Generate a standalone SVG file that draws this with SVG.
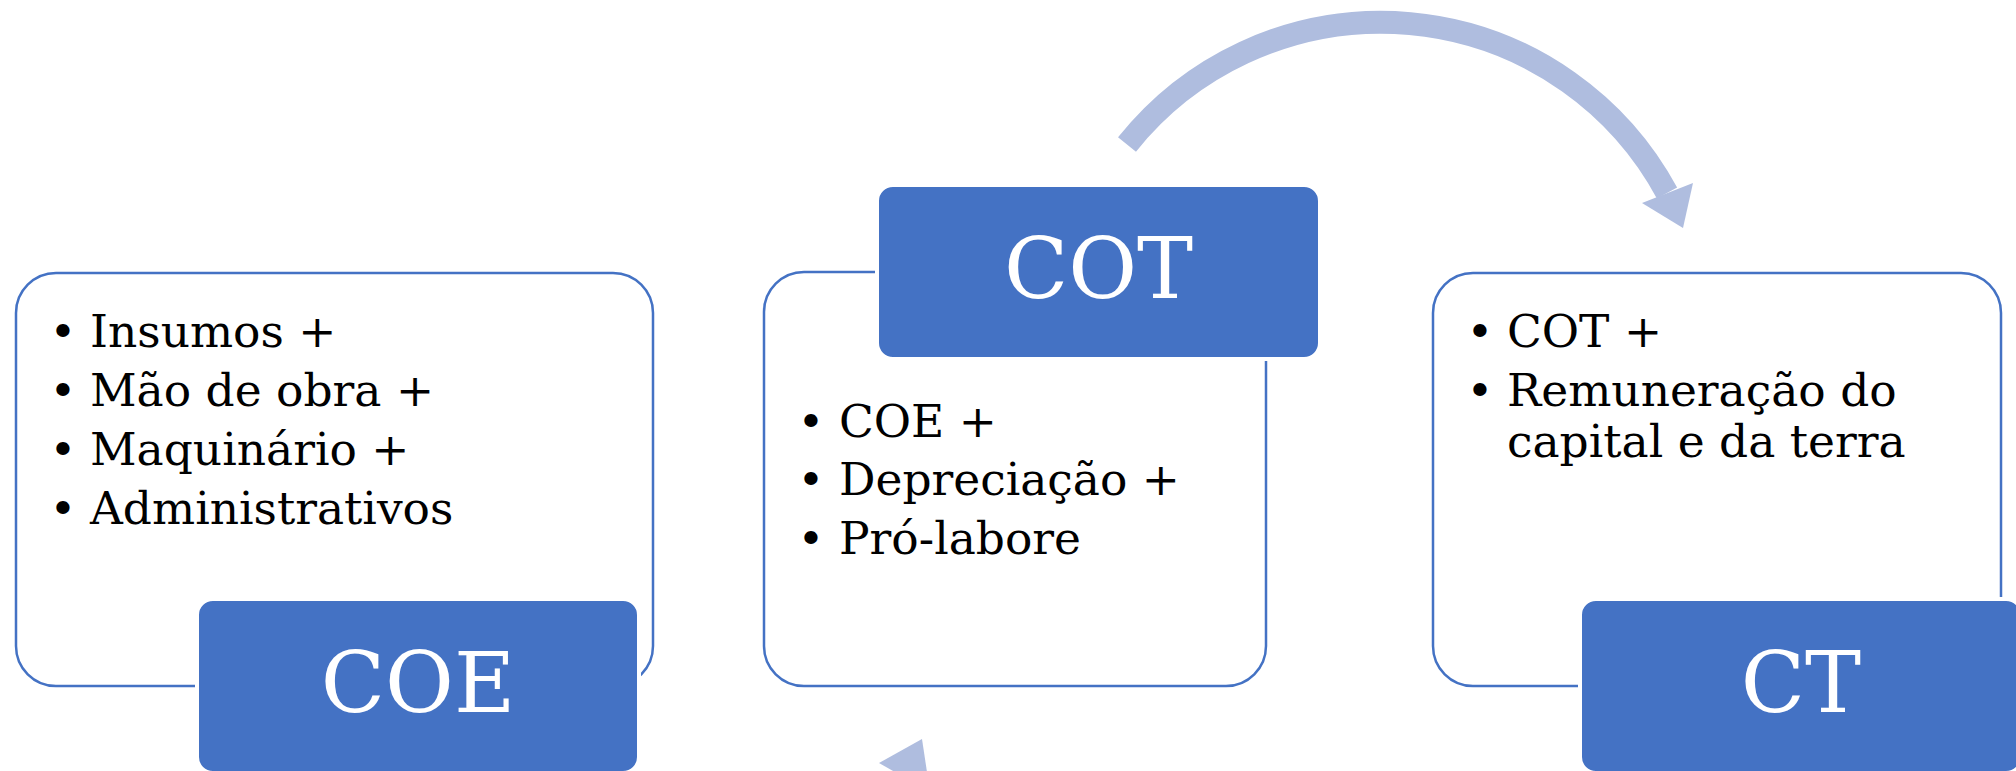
<svg xmlns="http://www.w3.org/2000/svg" width="2016" height="771" viewBox="0 0 2016 771">
<style>
.outer{fill:#FFFFFF;stroke:#4472C4;stroke-width:2.5}
.head{fill:#4472C4;stroke:#FFFFFF;stroke-width:4}
.lbl{font-family:"DejaVu Serif","Liberation Serif",serif;font-size:84px;fill:#FFFFFF;text-anchor:middle}
.txt{font-family:"DejaVu Serif","Liberation Serif",serif;font-size:45.5px;fill:#000000}
.bul{font-family:"DejaVu Serif","Liberation Serif",serif;font-size:45.5px;fill:#000000;text-anchor:middle}
.arc{fill:none;stroke:#AFBDDF;stroke-width:23}
.ah{fill:#AFBDDF}
</style>
<rect width="2016" height="771" fill="#FFFFFF"/>
<g id="connectors">
<path class="arc" d="M 1127 144.5 A 325 325 0 0 1 1667 193"/>
<polygon class="ah" points="1642,203 1693,183 1683,228"/>
<polygon class="ah" points="922,739 879,763 930,792"/>
</g>
<g id="node-coe">
<rect class="outer" x="16" y="273" width="637" height="413" rx="40"/>
<text class="bul" x="63" y="347">•</text><text class="txt" x="90" y="347">Insumos +</text>
<text class="bul" x="63" y="406">•</text><text class="txt" x="90" y="406">Mão de obra +</text>
<text class="bul" x="63" y="465">•</text><text class="txt" x="90" y="465">Maquinário +</text>
<text class="bul" x="63" y="524">•</text><text class="txt" x="90" y="524">Administrativos</text>
<rect class="head" x="197" y="599" width="442" height="174" rx="16"/>
<text class="lbl" x="418" y="712">COE</text>
</g>
<g id="node-cot">
<rect class="outer" x="764" y="272" width="502" height="414" rx="40"/>
<text class="bul" x="811" y="437">•</text><text class="txt" x="839" y="437">COE +</text>
<text class="bul" x="811" y="495">•</text><text class="txt" x="839" y="495">Depreciação +</text>
<text class="bul" x="811" y="554">•</text><text class="txt" x="839" y="554">Pró-labore</text>
<rect class="head" x="877" y="185" width="443" height="174" rx="16"/>
<text class="lbl" x="1098.5" y="298">COT</text>
</g>
<g id="node-ct">
<rect class="outer" x="1433" y="273" width="568" height="413" rx="40"/>
<text class="bul" x="1480" y="347">•</text><text class="txt" x="1507" y="347">COT +</text>
<text class="bul" x="1480" y="406">•</text><text class="txt" x="1507" y="406">Remuneração do</text>
<text class="txt" x="1507" y="457">capital e da terra</text>
<rect class="head" x="1580" y="599" width="442" height="174" rx="16"/>
<text class="lbl" x="1801" y="712">CT</text>
</g>
</svg>
